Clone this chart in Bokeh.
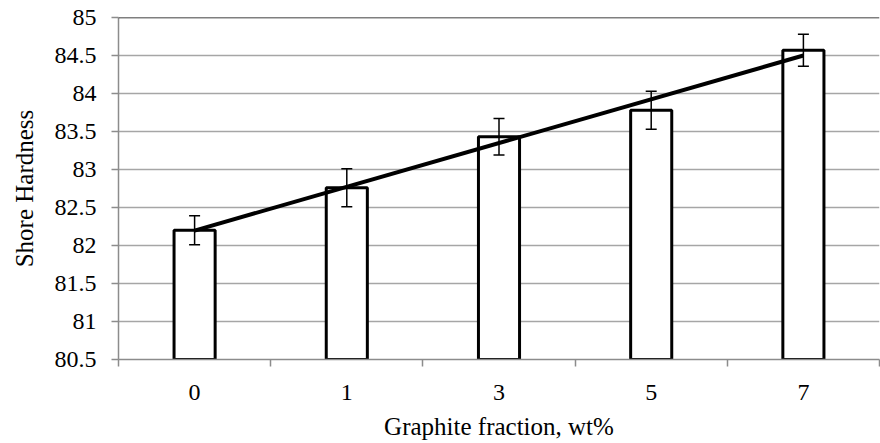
import numpy as np
from bokeh.plotting import figure
from bokeh.models import ColumnDataSource, Whisker, FixedTicker, Range1d, Span
from bokeh.embed import file_html
from bokeh.resources import INLINE

categories = ["0", "1", "3", "5", "7"]
hardness = [82.2, 82.76, 83.43, 83.78, 84.57]
errors = [0.19, 0.25, 0.24, 0.25, 0.21]
y_ticks = [80.5, 81, 81.5, 82, 82.5, 83, 83.5, 84, 84.5, 85]
y_tick_labels = ["80.5", "81", "81.5", "82", "82.5", "83", "83.5", "84", "84.5", "85"]

xs = list(range(1, len(categories) + 1))
src = ColumnDataSource(dict(
    x=xs, y=hardness,
    upper=[h + e for h, e in zip(hardness, errors)],
    lower=[h - e for h, e in zip(hardness, errors)],
))

FONT = "Liberation Serif"

p = figure(width=880, height=443, output_backend="svg", toolbar_location=None,
           x_range=Range1d(0.5, len(categories) + 0.5),
           y_range=Range1d(y_ticks[0], y_ticks[-1]),
           min_border_left=118, min_border_right=1, min_border_top=17, min_border_bottom=84)
p.outline_line_color = None
p.background_fill_color = "white"
p.border_fill_color = "white"

# grid
p.xgrid.grid_line_color = None
p.ygrid.grid_line_color = "#a6a6a6"
p.ygrid.grid_line_width = 1.5

# y axis
p.yaxis.ticker = FixedTicker(ticks=y_ticks)
p.yaxis.major_label_overrides = {t: s for t, s in zip(y_ticks, y_tick_labels)}
p.yaxis.axis_line_color = "#8c8c8c"
p.yaxis.axis_line_width = 1.5
p.yaxis.major_tick_line_color = "#8c8c8c"
p.yaxis.major_tick_line_width = 1.5
p.yaxis.major_tick_out = 7
p.yaxis.major_tick_in = 0
p.yaxis.minor_tick_line_color = None
p.yaxis.major_label_text_font = FONT
p.yaxis.major_label_text_font_size = "24px"
p.yaxis.major_label_text_color = "black"
p.yaxis.major_label_standoff = 15
p.yaxis.axis_label = "Shore Hardness"
p.yaxis.axis_label_text_font = FONT
p.yaxis.axis_label_text_font_size = "25px"
p.yaxis.axis_label_text_font_style = "normal"
p.yaxis.axis_label_text_color = "black"
p.yaxis.axis_label_standoff = 14

# x axis: labels at centers, ticks at category boundaries
p.xaxis.ticker = FixedTicker(ticks=xs, minor_ticks=[x - 0.5 for x in xs] + [xs[-1] + 0.5])
p.xaxis.major_label_overrides = {x: c for x, c in zip(xs, categories)}
p.xaxis.axis_line_color = "#8c8c8c"
p.xaxis.axis_line_width = 1.5
p.xaxis.major_tick_line_color = None
p.xaxis.major_tick_out = 7
p.xaxis.major_tick_in = 0
p.xaxis.minor_tick_line_color = "#8c8c8c"
p.xaxis.minor_tick_line_width = 1.5
p.xaxis.minor_tick_out = 7
p.xaxis.minor_tick_in = 0
p.xaxis.major_label_text_font = FONT
p.xaxis.major_label_text_font_size = "24px"
p.xaxis.major_label_text_color = "black"
p.xaxis.major_label_standoff = 18
p.xaxis.axis_label = "Graphite fraction, wt%"
p.xaxis.axis_label_text_font = FONT
p.xaxis.axis_label_text_font_size = "25px"
p.xaxis.axis_label_text_font_style = "normal"
p.xaxis.axis_label_text_color = "black"
p.xaxis.axis_label_standoff = 10

# top border line at the max
p.add_layout(Span(location=y_ticks[-1], dimension="width", line_color="black", line_width=1.5))

# bars
p.vbar(x="x", top="y", bottom=y_ticks[0], width=0.27, source=src,
       fill_color="white", line_color="black", line_width=3)

# error bars
w = Whisker(source=src, base="x", upper="upper", lower="lower",
            line_color="black", line_width=1.5, level="overlay")
w.upper_head.size = 11
w.lower_head.size = 11
w.upper_head.line_width = 1.5
w.lower_head.line_width = 1.5
w.upper_head.line_color = "black"
w.lower_head.line_color = "black"
p.add_layout(w)

# linear trendline
slope, intercept = np.polyfit(xs, hardness, 1)
tx = [xs[0], xs[-1]]
p.line(tx, [slope * t + intercept for t in tx], line_color="black", line_width=4)

open("out.html", "w").write(file_html(p, INLINE))
